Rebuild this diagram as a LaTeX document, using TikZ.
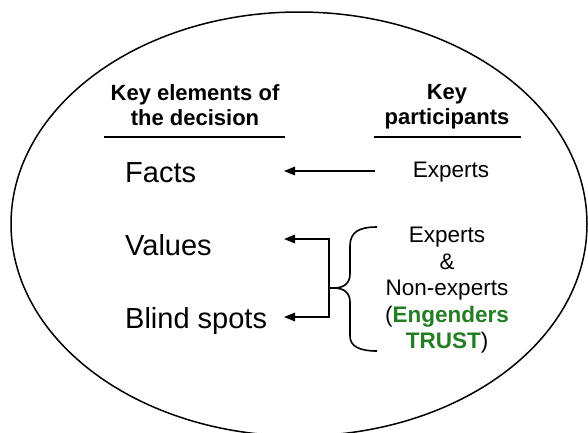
\documentclass[tikz,border=0pt]{standalone}
\usepackage{fontspec}
\setmainfont{Liberation Sans}
\usetikzlibrary{arrows.meta}
\definecolor{trustgreen}{RGB}{35,125,35}
\begin{document}
\begin{tikzpicture}[x=1pt,y=-1pt,
  header/.style={font=\bfseries\fontsize{22}{25}\selectfont, align=center, anchor=north, inner sep=0pt},
  element/.style={font=\fontsize{29}{33}\selectfont, anchor=base west, inner sep=0pt},
  participant/.style={font=\fontsize{22.5}{26.5}\selectfont, align=center, anchor=north, inner sep=0pt},
  rule/.style={line width=2.6pt},
  arr/.style={line width=1.6pt, -{Triangle[length=11pt,width=8.5pt]}},
  brace/.style={line width=1.6pt}
]
\useasboundingbox (0,0) rectangle (588,432);
\begin{scope}
\clip (0,0) rectangle (588,432);
\draw[line width=1.5pt] (299,224) ellipse [x radius=288, y radius=212];
\end{scope}

% headers
\node[header] (hleft) at (195,84) {Key elements of\\the decision};
\node[header] (hright) at (447,84.3) {Key\\participants};
\draw[rule] (104,137) -- (285,137);
\draw[rule] (374,137) -- (521,137);

% left column
\node[element] (facts) at (125,182) {Facts};
\node[element] (values) at (125,255) {Values};
\node[element] (blind) at (125,328) {Blind spots};

% right column
\node[participant, anchor=base] (experts) at (451,177) {Experts};
\node[participant] (group) at (447,227) {Experts\\\&\\Non-experts\\(\textcolor{trustgreen}{\bfseries Engenders}\\\textcolor{trustgreen}{\bfseries TRUST})};

% connectors
\coordinate (fT) at (375,171);
\coordinate (fA) at (284,171);
\coordinate (vA) at (284,239);
\coordinate (bA) at (284,317);
\coordinate (fork) at (329,288);
\coordinate (btip) at (334,288);
\draw[arr] (fT) -- (fA);
\draw[arr] (fork) |- (vA);
\draw[arr] (fork) |- (bA);
\draw[brace] (fork) -- (btip);

% brace
\draw[brace] (377,227) .. controls (359,227) and (350,232) .. (350,246)
  -- (350,274) .. controls (350,283) and (344,288) .. (btip)
  .. controls (344,288) and (350,293) .. (350,302)
  -- (350,336) .. controls (350,346) and (359,351) .. (377,351);
\end{tikzpicture}
\end{document}
